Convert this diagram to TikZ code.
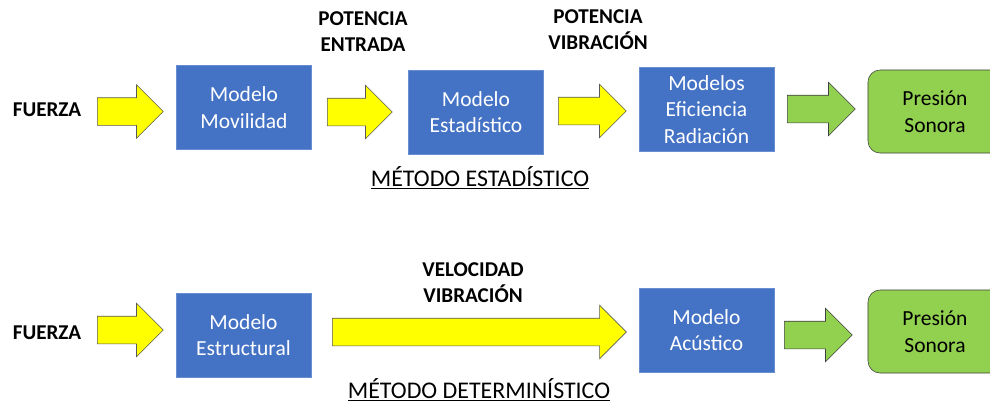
\documentclass[tikz,border=0pt]{standalone}
\usepackage{fontspec}
\setmainfont{Carlito}
\usepackage{tikz}
\usetikzlibrary{shapes.arrows}
\definecolor{boxblue}{HTML}{4472C4}
\definecolor{outgreen}{HTML}{92D050}
\definecolor{flowyellow}{HTML}{FFFF00}

\begin{document}
\begin{tikzpicture}[x=0.025cm,y=-0.025cm]
  \tikzstyle{model}=[rectangle, fill=boxblue, draw=boxblue!80!white, text=white,
minimum width=3.375cm, minimum height=2.1cm, align=center, inner sep=0pt,
font=\fontsize{15.3}{19}\selectfont]
  \tikzstyle{output}=[rectangle, rounded corners=0.3cm, fill=outgreen, draw=black!75,
minimum width=3.35cm, minimum height=2.075cm, align=center, inner sep=0pt,
font=\fontsize{15.3}{19}\selectfont]
  \tikzstyle{flow}=[single arrow, single arrow head extend=0.325cm, inner xsep=0pt,
inner ysep=0.3375cm, anchor=tail, draw=black!65, fill=flowyellow]
  \tikzstyle{qty}=[align=center, font=\bfseries\fontsize{15}{18.4}\selectfont]
  \tikzstyle{method}=[font=\fontsize{17}{19}\selectfont]
  \clip (0,0) rectangle (990,403);
  % metodo estadistico
  \node[qty] (F_1) at (47,110) {FUERZA};
  \node[flow, minimum height=1.65cm] (A_1) at (97,111.5) {};
  \node[model] (B_1) at (244,107.5) {Modelo\\Movilidad};
  \node[qty] (Q_1) at (363,32) {POTENCIA\\ENTRADA};
  \node[flow, minimum height=1.625cm] (A_2) at (327,112) {};
  \node[model] (B_2) at (476,112) {Modelo\\Estadístico};
  \node[qty] (Q_2) at (598,30) {POTENCIA\\VIBRACIÓN};
  \node[flow, minimum height=1.7cm] (A_3) at (558,111) {};
  \node[model] (B_3) at (706.5,109.5) {Modelos\\Eficiencia\\Radiación};
  \node[flow, minimum height=1.7cm, fill=outgreen, draw=black!75] (A_4) at (787,109) {};
  \node[output] (P_1) at (935,111.5) {Presión\\Sonora};
  \node[method] (M_1) at (480,178) {\underline{MÉTODO ESTADÍSTICO}};
  % metodo deterministico
  \node[qty] (F_2) at (47,333) {FUERZA};
  \node[flow, minimum height=1.65cm] (A_5) at (97,330) {};
  \node[model] (B_4) at (243.5,335) {Modelo\\Estructural};
  \node[qty] (Q_3) at (473,283) {VELOCIDAD\\VIBRACIÓN};
  \node[flow, minimum height=7.35cm] (A_6) at (332,332) {};
  \node[model] (B_5) at (706.5,330) {Modelo\\Acústico};
  \node[flow, minimum height=1.7cm, fill=outgreen, draw=black!75] (A_7) at (784,335) {};
  \node[output] (P_2) at (935,331.5) {Presión\\Sonora};
  \node[method] (M_2) at (479,390) {\underline{MÉTODO DETERMINÍSTICO}};
\end{tikzpicture}
\end{document}
